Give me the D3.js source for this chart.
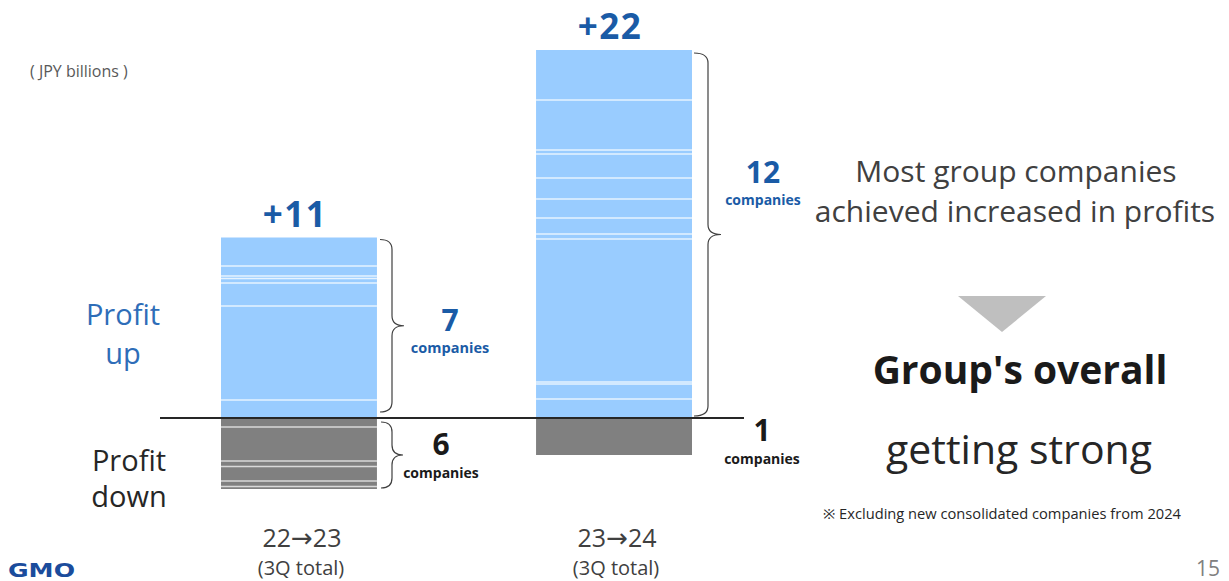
<!DOCTYPE html>
<html>
<head>
<meta charset="utf-8">
<script src="https://cdn.jsdelivr.net/npm/d3@7"></script>
<style>
  html, body { margin: 0; padding: 0; background: #fff; }
  svg { display: block; font-family: "Open Sans", "Noto Sans", sans-serif; }
</style>
</head>
<body>
<svg id="chart" width="1229" height="581"></svg>
<script>
// Periods compared (3Q cumulative)
const categories = ["22\u219223", "23\u219224"];
const categorySub = ["(3Q total)", "(3Q total)"];

// Per-company profit change, JPY billions.
// Gains listed from the baseline upward, declines from the baseline downward.
const gains2223 = [1.8, 9.4, 2.3, 0.45, 0.25, 1.0, 2.85];
const losses2223 = [0.9, 3.4, 0.55, 1.45, 0.55, 0.25];
const gains2324 = [1.9, 1.5, 0.2, 14.3, 0.5, 1.6, 1.9, 2.1, 2.4, 0.4, 5.0, 5.0];
const losses2324 = [3.7];

// Net change labels shown above each bar
const netLabels = ["+11", "+22"];

const gains = [gains2223, gains2324];
const losses = [losses2223, losses2324];

const svg = d3.select("#chart");

const x = d3.scaleBand()
  .domain(categories)
  .range([221, 692])
  .paddingInner(0.505)
  .paddingOuter(0);

const y = d3.scaleLinear()
  .domain([0, 36.8])
  .range([418, 50]);

const blue = "#99CCFF";
const grey = "#808080";
const textBlue = "#1A5BA6";

// Stack segments for each period
categories.forEach((cat, i) => {
  const x0 = x(cat), w = x.bandwidth();
  // gains
  let acc = 0;
  const up = gains[i].map(v => { const s = { a: acc, b: acc + v }; acc += v; return s; });
  svg.append("g").selectAll("rect").data(up).join("rect")
    .attr("x", x0).attr("width", w)
    .attr("y", d => y(d.b)).attr("height", d => y(d.a) - y(d.b))
    .attr("fill", blue);
  svg.append("g").selectAll("line").data(up.slice(0, -1)).join("line")
    .attr("x1", x0).attr("x2", x0 + w)
    .attr("y1", d => y(d.b)).attr("y2", d => y(d.b))
    .attr("stroke", "#E6F3FF").attr("stroke-width", 1.3);
  // losses (drawn below zero)
  acc = 0;
  const down = losses[i].map(v => { const s = { a: acc, b: acc + v }; acc += v; return s; });
  svg.append("g").selectAll("rect").data(down).join("rect")
    .attr("x", x0).attr("width", w)
    .attr("y", d => y(-d.a)).attr("height", d => y(-d.b) - y(-d.a))
    .attr("fill", grey);
  svg.append("g").selectAll("line").data(down.slice(0, -1)).join("line")
    .attr("x1", x0).attr("x2", x0 + w)
    .attr("y1", d => y(-d.b)).attr("y2", d => y(-d.b))
    .attr("stroke", "#D9D9D9").attr("stroke-width", 1.5);

  const total = d3.sum(gains[i]);
  svg.append("text")
    .attr("x", x0 + w / 2 - 4).attr("y", y(total) - 11)
    .attr("text-anchor", "middle")
    .attr("font-size", 35).attr("font-weight", 700)
    .attr("letter-spacing", 1.5)
    .attr("fill", textBlue)
    .text(netLabels[i]);

  // category labels: numbers in Open Sans, arrow from DejaVu Sans
  const parts = cat.split("\u2192");
  const t = svg.append("text")
    .attr("x", x0 + w / 2 + 3).attr("y", 547)
    .attr("text-anchor", "middle").attr("font-size", 25).attr("fill", "#404040");
  t.append("tspan").text(parts[0]);
  t.append("tspan").attr("font-family", "DejaVu Sans").attr("font-size", 26).text("\u2192");
  t.append("tspan").text(parts[1]);
  svg.append("text")
    .attr("x", x0 + w / 2 + 2).attr("y", 575)
    .attr("text-anchor", "middle").attr("font-size", 20).attr("fill", "#404040")
    .text(categorySub[i]);
});

// zero line
svg.append("line")
  .attr("x1", 160).attr("x2", 744)
  .attr("y1", y(0)).attr("y2", y(0))
  .attr("stroke", "#262626").attr("stroke-width", 2);

// curly brace path
function brace(x0, y1, y2, mid, tip) {
  const ym = (y1 + y2) / 2;
  const r = 10;
  return `M${x0},${y1} Q${mid},${y1} ${mid},${y1 + r} L${mid},${ym - r} Q${mid},${ym} ${tip},${ym} ` +
         `Q${mid},${ym} ${mid},${ym + r} L${mid},${y2 - r} Q${mid},${y2} ${x0},${y2}`;
}
const braces = [
  [380, y(d3.sum(gains2223)) + 2, y(0) - 6, 392, 404],
  [381, y(0) + 4, y(-d3.sum(losses2223)) - 1, 392, 403],
  [694, y(d3.sum(gains2324)) + 3, y(0) - 2, 708, 721]
];
svg.append("g").selectAll("path").data(braces).join("path")
  .attr("d", d => brace(...d))
  .attr("fill", "none").attr("stroke", "#404040").attr("stroke-width", 1.2);

// company counts
const counts = [
  { n: gains2223.length, x: 450, y: 331, c: textBlue, s: 30, cs: 14.5, cy: 353 },
  { n: losses2223.length, x: 441, y: 455, c: "#1a1a1a", s: 30, cs: 14, cy: 478 },
  { n: gains2324.length, x: 763, y: 183, c: textBlue, s: 30, cs: 14, cy: 205 },
  { n: losses2324.length, x: 762, y: 441, c: "#1a1a1a", s: 30, cs: 14, cy: 464 }
];
counts.forEach(d => {
  svg.append("text").attr("x", d.x).attr("y", d.y).attr("text-anchor", "middle")
    .attr("font-size", d.s).attr("font-weight", 700).attr("fill", d.c).text(d.n);
  svg.append("text").attr("x", d.x).attr("y", d.cy).attr("text-anchor", "middle")
    .attr("font-size", d.cs).attr("font-weight", 700).attr("fill", d.c).text("companies");
});

// side labels
svg.append("text").attr("x", 123).attr("y", 325).attr("text-anchor", "middle")
  .attr("font-size", 29).attr("fill", "#2E6DB8").text("Profit");
svg.append("text").attr("x", 123).attr("y", 364).attr("text-anchor", "middle")
  .attr("font-size", 29).attr("fill", "#2E6DB8").text("up");
svg.append("text").attr("x", 129).attr("y", 471).attr("text-anchor", "middle")
  .attr("font-size", 29).attr("fill", "#262626").text("Profit");
svg.append("text").attr("x", 129).attr("y", 507).attr("text-anchor", "middle")
  .attr("font-size", 29).attr("fill", "#262626").text("down");

svg.append("text").attr("x", 30).attr("y", 77)
  .attr("font-size", 16).attr("fill", "#595959").text("( JPY billions )");

// right-hand message
svg.append("text").attr("x", 1016).attr("y", 182).attr("text-anchor", "middle")
  .attr("font-size", 30).attr("fill", "#404040").text("Most group companies");
svg.append("text").attr("x", 1015).attr("y", 222).attr("text-anchor", "middle")
  .attr("font-size", 30).attr("fill", "#404040").text("achieved increased in profits");
svg.append("path")
  .attr("d", "M958,296 L1046,296 L1002,332 Z")
  .attr("fill", "#BFBFBF");
svg.append("text").attr("x", 1020).attr("y", 384).attr("text-anchor", "middle")
  .attr("font-size", 39).attr("font-weight", 700).attr("fill", "#1a1a1a").text("Group's overall");
svg.append("text").attr("x", 1019).attr("y", 464).attr("text-anchor", "middle")
  .attr("font-size", 41).attr("fill", "#262626").text("getting strong");
svg.append("text").attr("x", 823).attr("y", 519)
  .attr("font-size", 14).attr("fill", "#262626")
  .attr("textLength", 358).attr("lengthAdjust", "spacingAndGlyphs")
  .text("\u203B Excluding new consolidated companies from 2024");

// footer
svg.append("text").attr("x", 8).attr("y", 577)
  .attr("font-size", 20).attr("font-weight", 800).attr("fill", "#1B4C9C")
  .attr("font-family", "DejaVu Sans")
  .attr("textLength", 67).attr("lengthAdjust", "spacingAndGlyphs").text("GMO");
svg.append("text").attr("x", 1208).attr("y", 576).attr("text-anchor", "middle")
  .attr("font-size", 21).attr("fill", "#808080").text("15");
</script>
</body>
</html>
